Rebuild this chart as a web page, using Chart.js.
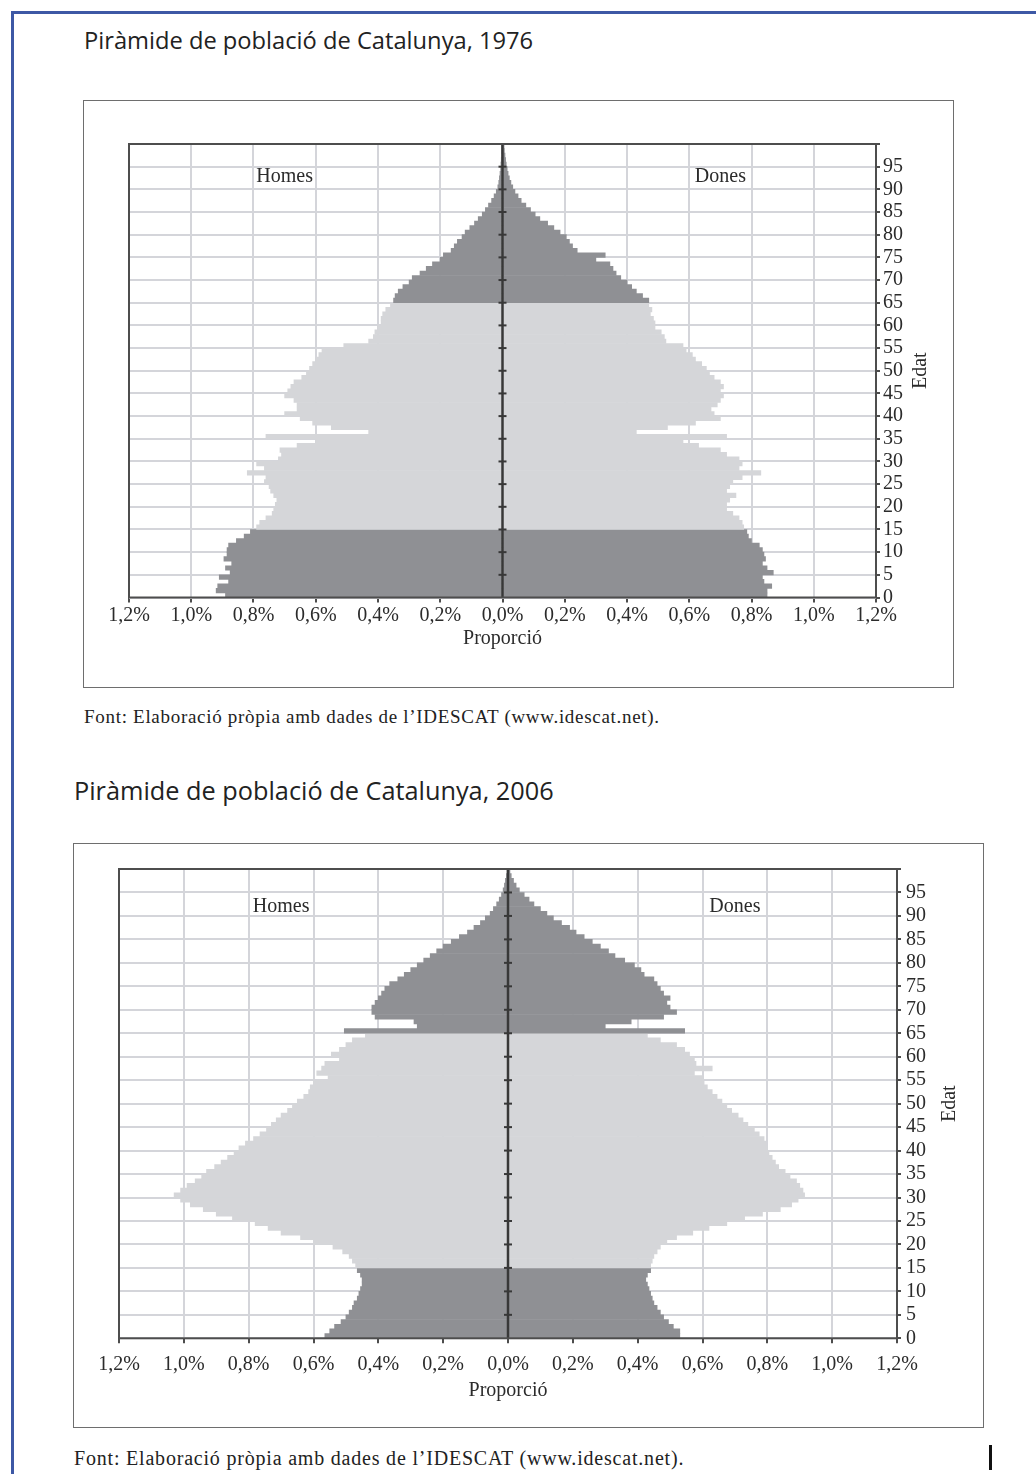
<!DOCTYPE html>
<html lang="ca">
<head>
<meta charset="utf-8">
<title>Piràmides de població de Catalunya, 1976 i 2006</title>
<script src="https://cdn.jsdelivr.net/npm/chart.js@4.4.1/dist/chart.umd.min.js"></script>
<style>
  html, body { margin: 0; padding: 0; background: #fff; }
  body { width: 1036px; height: 1474px; position: relative; overflow: hidden; }
  .blau-dalt { position: absolute; left: 11px; top: 11px; width: 1025px; height: 3px; background: #3d58a5; }
  .blau-esq { position: absolute; left: 11px; top: 11px; width: 3px; height: 1463px; background: #3d58a5; }
  .titol { position: absolute; font-family: "Open Sans", sans-serif; color: #222; white-space: nowrap; line-height: 28px; }
  .font { position: absolute; font-family: "Liberation Serif", serif; color: #222; white-space: nowrap; line-height: 22px; }
  .marc { position: absolute; border: 1.5px solid #6e6e6e; box-sizing: border-box; }
  .marca { position: absolute; left: 989px; top: 1445px; width: 3px; height: 25px; background: #111; }
  canvas { position: absolute; }
</style>
</head>
<body>
<div class="blau-dalt"></div>
<div class="blau-esq"></div>

<div class="titol" style="left:84px; top:26px; font-size:23.7px;">Piràmide de població de Catalunya, 1976</div>
<div class="marc" style="left:83px; top:100px; width:871px; height:588px;"></div>
<canvas id="p1976" width="866" height="584" style="left:85px; top:102px;"></canvas>
<div class="font" style="left:84px; top:706px; font-size:19px; letter-spacing:0.7px;">Font: Elaboració pròpia amb dades de l’IDESCAT (www.idescat.net).</div>

<div class="titol" style="left:74px; top:776px; font-size:25.3px;">Piràmide de població de Catalunya, 2006</div>
<div class="marc" style="left:73px; top:843px; width:911px; height:585px;"></div>
<canvas id="p2006" width="907" height="581" style="left:75px; top:845px;"></canvas>
<div class="font" style="left:74px; top:1447px; font-size:20px; letter-spacing:0.8px;">Font: Elaboració pròpia amb dades de l’IDESCAT (www.idescat.net).</div>
<div class="marca"></div>

<script>
// edats (anys), 0 a 99
const edats = [0,1,2,3,4,5,6,7,8,9,10,11,12,13,14,15,16,17,18,19,20,21,22,23,24,25,26,27,28,29,
  30,31,32,33,34,35,36,37,38,39,40,41,42,43,44,45,46,47,48,49,50,51,52,53,54,55,56,57,58,59,
  60,61,62,63,64,65,66,67,68,69,70,71,72,73,74,75,76,77,78,79,80,81,82,83,84,85,86,87,88,89,
  90,91,92,93,94,95,96,97,98,99];

// marques de l'eix central (cada 5 anys)
const ticsEdat = [5,10,15,20,25,30,35,40,45,50,55,60,65,70,75,80,85,90,95];

// proporció sobre el total de població (%) per edat simple
const homes1976 = [
  0.89, 0.92, 0.915, 0.88, 0.91,   0.875, 0.89, 0.87, 0.895, 0.885,
  0.885, 0.88, 0.855, 0.83, 0.81,  0.79, 0.78, 0.76, 0.74, 0.735,
  0.73, 0.725, 0.735, 0.745, 0.75, 0.765, 0.76, 0.82, 0.765, 0.79,
  0.72, 0.71, 0.715, 0.66, 0.60,   0.76, 0.43, 0.55, 0.61, 0.65,
  0.70, 0.66, 0.66, 0.67, 0.70,    0.69, 0.68, 0.67, 0.645, 0.63,
  0.62, 0.61, 0.60, 0.59, 0.58,    0.51, 0.43, 0.415, 0.41, 0.40,
  0.39, 0.39, 0.385, 0.375, 0.36,  0.35, 0.345, 0.335, 0.32, 0.30,
  0.29, 0.265, 0.245, 0.225, 0.20, 0.19, 0.165, 0.155, 0.145, 0.13,
  0.12, 0.105, 0.09, 0.078, 0.065, 0.055, 0.045, 0.035, 0.027, 0.02,
  0.015, 0.012, 0.01, 0.008, 0.006, 0.005, 0.004, 0.003, 0.002, 0.001
];
const dones1976 = [
  0.85, 0.85, 0.865, 0.84, 0.835,  0.87, 0.85, 0.835, 0.845, 0.84,
  0.835, 0.825, 0.80, 0.79, 0.785, 0.775, 0.77, 0.76, 0.74, 0.72,
  0.72, 0.73, 0.75, 0.72, 0.73,    0.74, 0.77, 0.83, 0.76, 0.77,
  0.76, 0.72, 0.70, 0.63, 0.58,    0.72, 0.43, 0.53, 0.62, 0.70,
  0.68, 0.67, 0.69, 0.70, 0.71,    0.70, 0.71, 0.70, 0.68, 0.665,
  0.655, 0.64, 0.62, 0.61, 0.59,   0.58, 0.525, 0.52, 0.51, 0.49,
  0.49, 0.485, 0.475, 0.48, 0.47,  0.47, 0.45, 0.43, 0.415, 0.40,
  0.38, 0.365, 0.355, 0.345, 0.30, 0.33, 0.24, 0.225, 0.215, 0.205,
  0.185, 0.165, 0.145, 0.12, 0.105, 0.09, 0.075, 0.06, 0.05, 0.04,
  0.033, 0.027, 0.022, 0.018, 0.015, 0.012, 0.01, 0.008, 0.006, 0.005
];
const homes2006 = [
  0.565, 0.55, 0.535, 0.515, 0.50, 0.49, 0.48, 0.475, 0.465, 0.46,
  0.455, 0.45, 0.45, 0.455, 0.465, 0.47, 0.48, 0.49, 0.51, 0.54,
  0.60, 0.64, 0.70, 0.74, 0.78,    0.85, 0.90, 0.94, 0.98, 1.01,
  1.03, 1.01, 0.99, 0.965, 0.945,  0.93, 0.905, 0.885, 0.865, 0.845,
  0.83, 0.81, 0.785, 0.765, 0.745, 0.73, 0.715, 0.70, 0.68, 0.665,
  0.65, 0.63, 0.615, 0.61, 0.60,   0.555, 0.59, 0.575, 0.565, 0.52,
  0.545, 0.52, 0.50, 0.48, 0.44,   0.505, 0.28, 0.29, 0.41, 0.42,
  0.42, 0.41, 0.40, 0.39, 0.38,    0.365, 0.34, 0.32, 0.30, 0.28,
  0.26, 0.24, 0.22, 0.20, 0.175,   0.15, 0.125, 0.105, 0.085, 0.07,
  0.055, 0.045, 0.035, 0.027, 0.02, 0.015, 0.011, 0.008, 0.005, 0.003
];
const dones2006 = [
  0.53, 0.53, 0.51, 0.495, 0.48,   0.47, 0.46, 0.45, 0.445, 0.44,
  0.435, 0.43, 0.425, 0.43, 0.44,  0.44, 0.445, 0.45, 0.46, 0.47,
  0.49, 0.52, 0.57, 0.62, 0.675,   0.73, 0.785, 0.84, 0.875, 0.895,
  0.915, 0.91, 0.90, 0.89, 0.87,   0.855, 0.835, 0.825, 0.815, 0.805,
  0.80, 0.795, 0.79, 0.775, 0.76,  0.74, 0.725, 0.71, 0.69, 0.675,
  0.66, 0.645, 0.63, 0.615, 0.605, 0.60, 0.575, 0.63, 0.58, 0.575,
  0.56, 0.545, 0.52, 0.47, 0.43,   0.545, 0.30, 0.38, 0.48, 0.52,
  0.50, 0.49, 0.50, 0.48, 0.47,    0.46, 0.45, 0.42, 0.41, 0.39,
  0.36, 0.33, 0.31, 0.285, 0.26,   0.235, 0.21, 0.19, 0.165, 0.14,
  0.12, 0.10, 0.08, 0.065, 0.05,   0.035, 0.025, 0.017, 0.01, 0.006
];

const FOSC = '#8f9094';      // 0-14 i 65 i més
const CLAR = '#d5d6d9';      // 15-64
const GRAELLA = '#d4d5da';
const VORA = '#4d4d4d';
const TEXT = '#2b2b2b';
const SERIF = '"Liberation Serif", "DejaVu Serif", serif';

const colorsEdat = edats.map(e => (e < 15 || e >= 65) ? FOSC : CLAR);

// eix central, vora de l'àrea, rètols Homes/Dones i títol Edat
const marcPlugin = {
  id: 'marc',
  afterDatasetsDraw(chart, args, opts) {
    const { ctx, chartArea: a, scales: { x, y } } = chart;
    ctx.save();
    const x0 = x.getPixelForValue(0);
    ctx.strokeStyle = '#383838';
    ctx.lineWidth = 2.5;
    ctx.beginPath(); ctx.moveTo(x0, a.top); ctx.lineTo(x0, a.bottom); ctx.stroke();
    ctx.lineWidth = 2;
    ticsEdat.forEach(v => {
      const py = y.getPixelForValue(v);
      ctx.beginPath(); ctx.moveTo(x0 - 4, py); ctx.lineTo(x0 + 4, py); ctx.stroke();
    });
    ctx.strokeStyle = VORA;
    ctx.lineWidth = 2;
    ctx.strokeRect(a.left, a.top, a.width, a.height);

    ctx.fillStyle = TEXT;
    ctx.font = opts.mida + 'px ' + SERIF;
    ctx.textAlign = 'center';
    ctx.textBaseline = 'middle';
    ctx.fillText('Homes', x.getPixelForValue(-0.7), y.getPixelForValue(opts.retolY));
    ctx.fillText('Dones', x.getPixelForValue(0.7), y.getPixelForValue(opts.retolY));
    ctx.translate(opts.edatX, (a.top + a.bottom) / 2);
    ctx.rotate(-Math.PI / 2);
    ctx.fillText('Edat', 0, 0);
    ctx.restore();
  }
};

function piramide(id, homes, dones, g) {
  const serie = (vals, signe) => edats.map((e, i) => ({ x: signe * vals[i], y: e + 0.5 }));
  const comu = { backgroundColor: colorsEdat, grouped: false, barPercentage: 1, categoryPercentage: 1, borderWidth: 0 };
  new Chart(document.getElementById(id), {
    type: 'bar',
    data: {
      datasets: [
        Object.assign({ label: 'Homes', data: serie(homes, -1) }, comu),
        Object.assign({ label: 'Dones', data: serie(dones, 1) }, comu)
      ]
    },
    options: {
      indexAxis: 'y',
      responsive: false,
      animation: false,
      layout: { padding: { left: g.left, top: g.top, right: 0, bottom: 0 } },
      scales: {
        x: {
          type: 'linear', min: -1.2, max: 1.2,
          afterFit: s => { s.height = g.xH; },
          ticks: {
            stepSize: 0.2, autoSkip: false, maxRotation: 0, padding: g.xPad, color: TEXT,
            font: { family: SERIF, size: g.mida },
            callback: v => Math.abs(v).toFixed(1).replace('.', ',') + '%'
          },
          grid: { color: GRAELLA, lineWidth: 2, tickLength: 5, tickColor: VORA, tickWidth: 2 },
          border: { display: false },
          title: { display: true, text: 'Proporció', color: TEXT, font: { family: SERIF, size: g.mida }, padding: { top: 0, bottom: g.titolPad } }
        },
        y: {
          type: 'linear', position: 'right', min: 0, max: 100, offset: false,
          afterFit: s => { s.width = g.yW; },
          ticks: {
            stepSize: 5, autoSkip: false, padding: g.yPad, color: TEXT,
            font: { family: SERIF, size: g.mida },
            callback: v => v === 100 ? '' : v
          },
          grid: { offset: false, color: GRAELLA, lineWidth: 2, tickLength: 4, tickColor: VORA, tickWidth: 2 },
          border: { display: false }
        }
      },
      plugins: {
        legend: { display: false },
        tooltip: { enabled: false },
        marc: { mida: g.mida, edatX: g.edatX, retolY: g.retolY }
      }
    },
    plugins: [marcPlugin]
  });
}

piramide('p1976', homes1976, dones1976, { left: 44, top: 42, yW: 75, xH: 88.5, xPad: 1, yPad: 3, titolPad: 35, mida: 20, edatX: 836, retolY: 92.7 });
piramide('p2006', homes2006, dones2006, { left: 44, top: 24, yW: 85, xH: 87.7, xPad: 9, yPad: 5, titolPad: 23, mida: 20, edatX: 875, retolY: 92.0 });
</script>
</body>
</html>
